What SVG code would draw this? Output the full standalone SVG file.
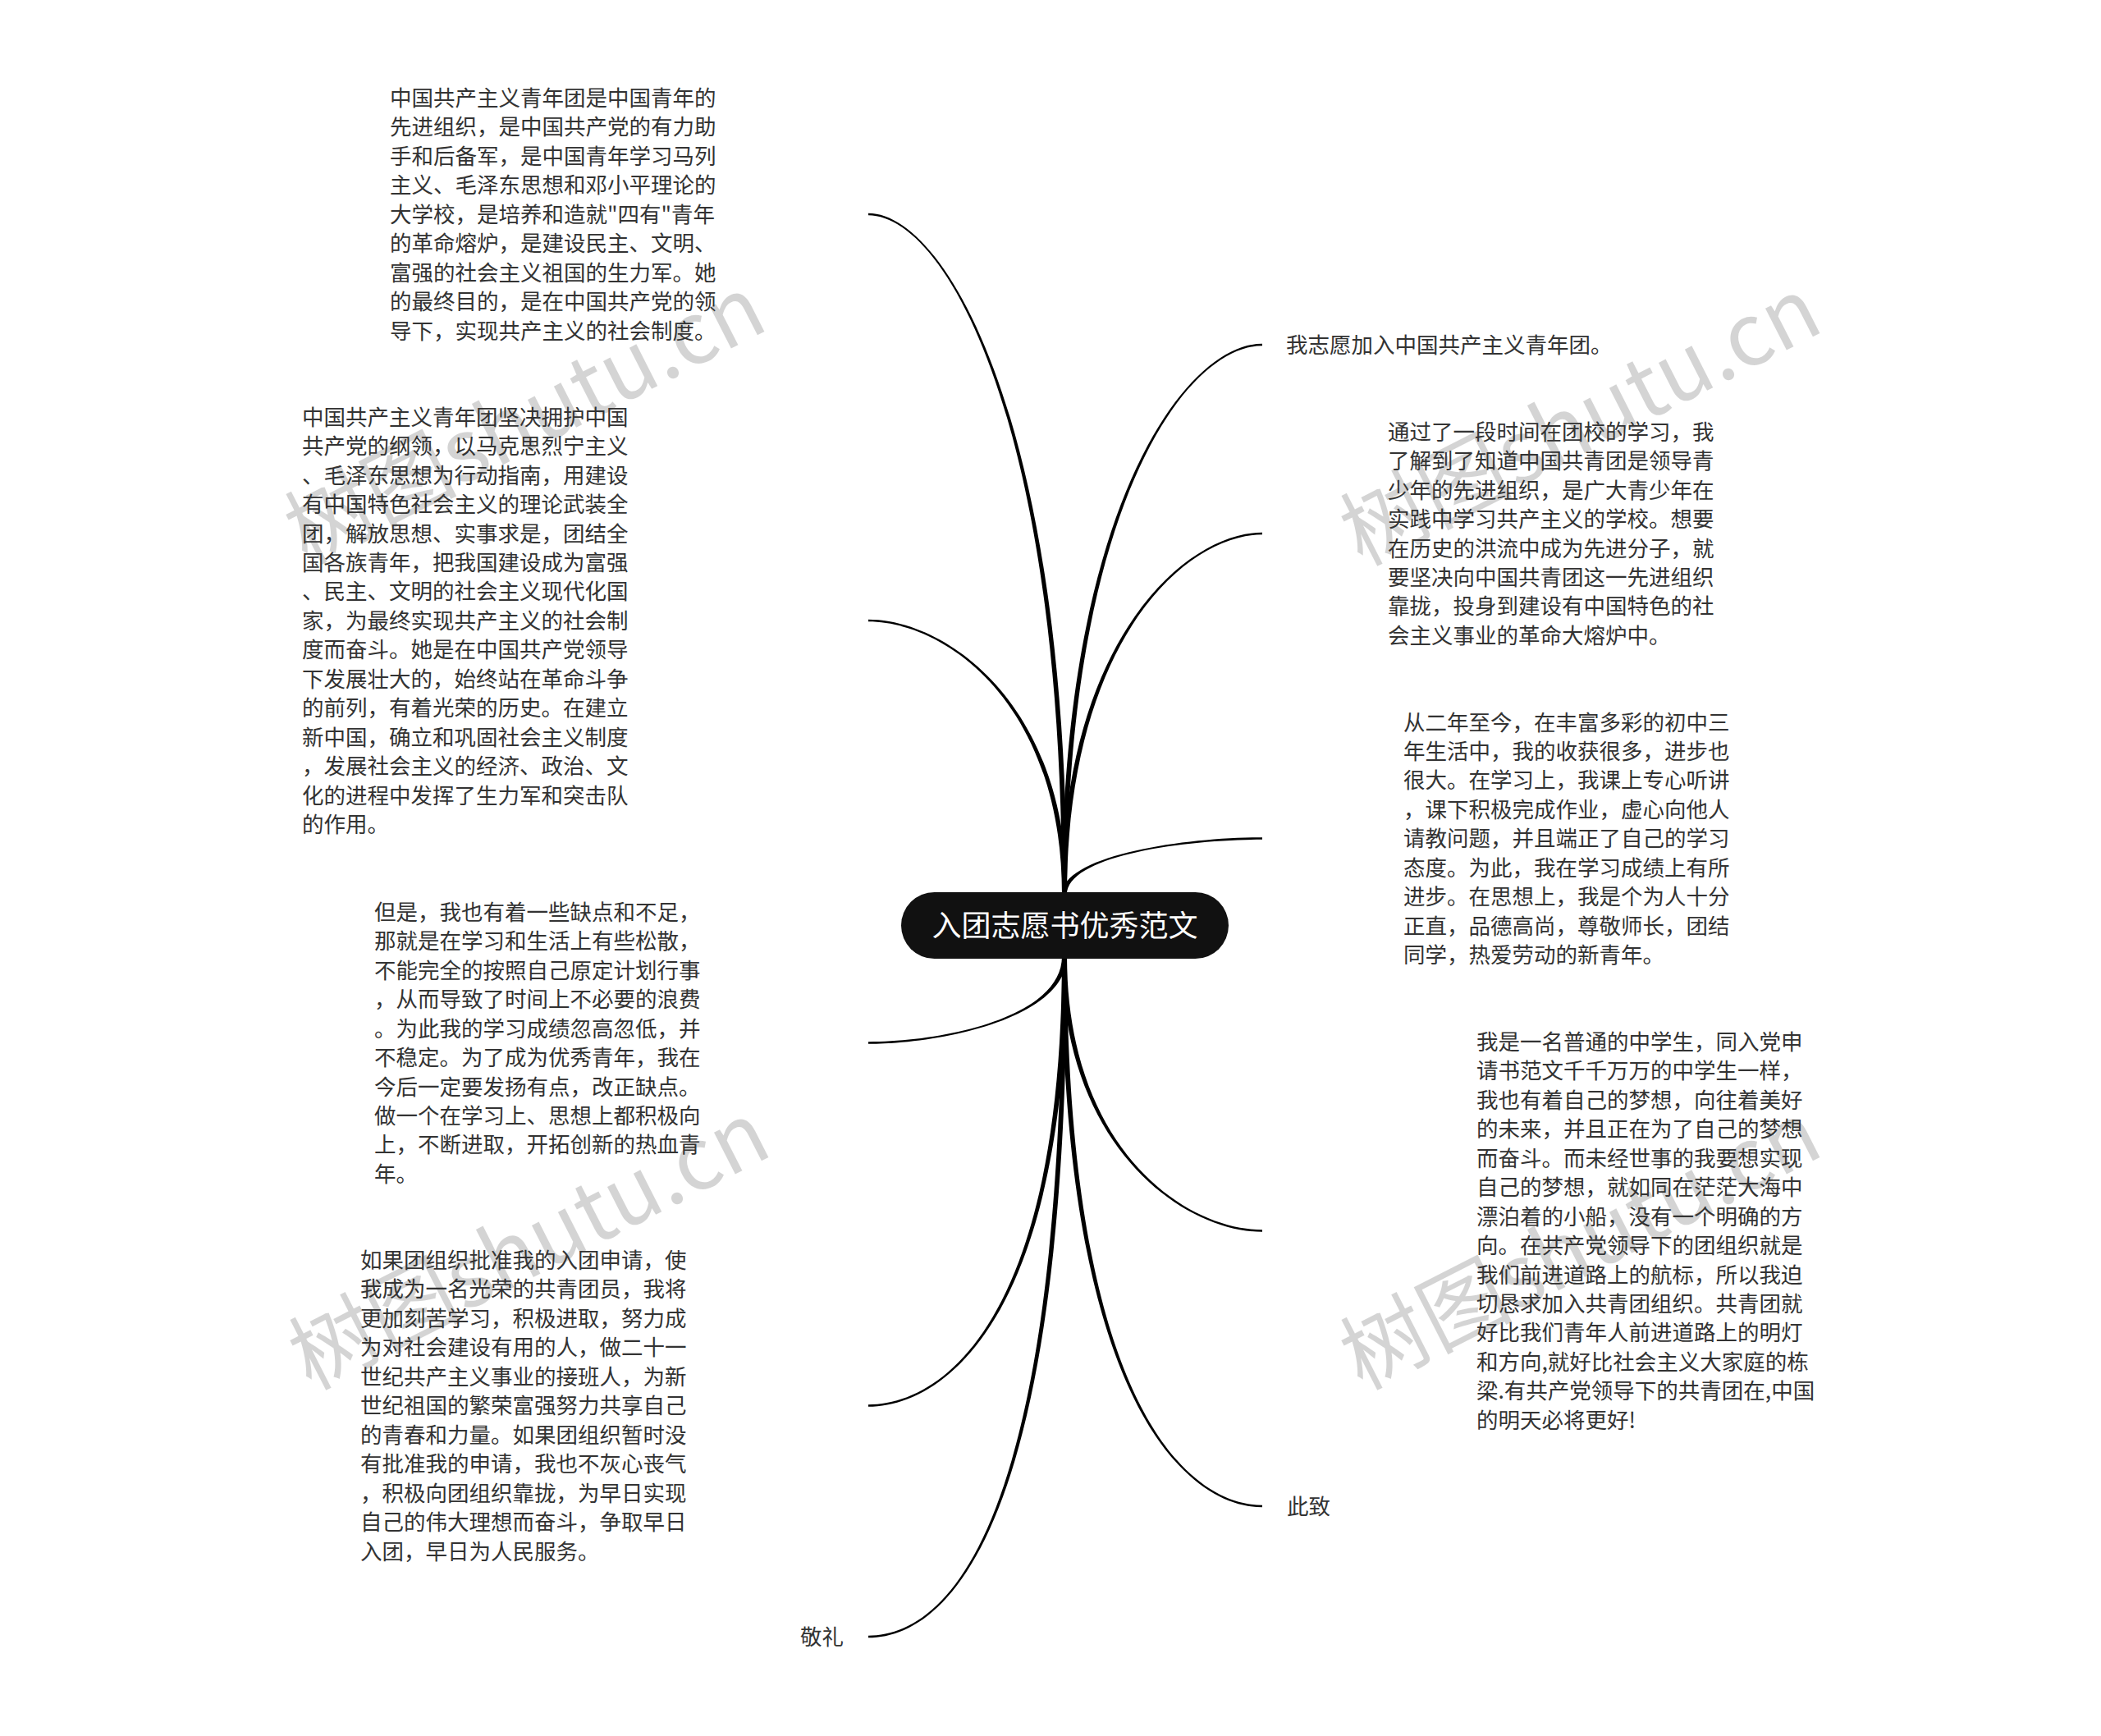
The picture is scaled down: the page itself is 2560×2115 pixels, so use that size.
<svg xmlns="http://www.w3.org/2000/svg" width="2560" height="2115" viewBox="0 0 2560 2115">
<style>
.t{font-family:"Noto Sans CJK SC","Liberation Sans",sans-serif;font-size:26.5px;fill:#333}
.c{font-family:"Noto Sans CJK SC","Liberation Sans",sans-serif;font-size:36px;fill:#fff;text-anchor:middle}
.wm{font-family:"Noto Sans CJK SC","Liberation Sans",sans-serif;font-size:105px;fill:#000;fill-opacity:0.17;text-anchor:middle}
.ln{fill:#000;stroke:none}
</style>
<rect width="2560" height="2115" fill="#fff"/>
<g id="watermarks">
<text class="wm" x="640" y="548" transform="rotate(-27 640 512)">树图shutu.cn</text>
<text class="wm" x="1926" y="550" transform="rotate(-27 1926 514)">树图shutu.cn</text>
<text class="wm" x="645" y="1554" transform="rotate(-27 645 1518)">树图shutu.cn</text>
<text class="wm" x="1926" y="1554" transform="rotate(-27 1926 1518)">树图shutu.cn</text>
</g>
<g id="connectors">
<path class="ln" d="M1294,1090 C1294,621 1444,418.7 1538,418.7 L1538,421.3 C1444,421.3 1300,621 1300,1090Z"/>
<path class="ln" d="M1294,1090 C1294,782 1444,648.7 1538,648.7 L1538,651.3 C1444,651.3 1300,782 1300,1090Z"/>
<path class="ln" d="M1294,1090 C1294,1042 1444,1020.2 1538,1020.2 L1538,1022.8 C1444,1022.8 1300,1042 1300,1090Z"/>
<path class="ln" d="M1300,1165 C1300,1399 1444,1498.2 1538,1498.2 L1538,1500.8 C1444,1500.8 1294,1399 1294,1165Z"/>
<path class="ln" d="M1300,1165 C1300,1701 1444,1833.7 1538,1833.7 L1538,1836.3 C1444,1836.3 1294,1701 1294,1165Z"/>
<path class="ln" d="M1294,1090 C1294,510 1151,262.3 1058,262.3 L1058,259.7 C1151,259.7 1300,510 1300,1090Z"/>
<path class="ln" d="M1294,1090 C1294,856 1151,757.3 1058,757.3 L1058,754.7 C1151,754.7 1300,856 1300,1090Z"/>
<path class="ln" d="M1300,1165 C1300,1238.8 1151,1271.8 1058,1271.8 L1058,1269.2 C1151,1269.2 1294,1238.8 1294,1165Z"/>
<path class="ln" d="M1300,1165 C1300,1603 1151,1713.8 1058,1713.8 L1058,1711.2 C1151,1711.2 1294,1603 1294,1165Z"/>
<path class="ln" d="M1300,1165 C1300,1870 1151,1995.3 1058,1995.3 L1058,1992.7 C1151,1992.7 1294,1870 1294,1165Z"/>
</g>
<g id="node-center">
<rect x="1098" y="1087" width="399" height="81" rx="40.5" fill="#111"/>
<text class="c" x="1297.5" y="1140.8">入团志愿书优秀范文</text>
</g>
<g id="node-l1">
<text class="t" x="475" y="129"><tspan x="475">中国共产主义青年团是中国青年的</tspan><tspan x="475" dy="35.45">先进组织，是中国共产党的有力助</tspan><tspan x="475" dy="35.45">手和后备军，是中国青年学习马列</tspan><tspan x="475" dy="35.45">主义、毛泽东思想和邓小平理论的</tspan><tspan x="475" dy="35.45">大学校，是培养和造就"四有"青年</tspan><tspan x="475" dy="35.45">的革命熔炉，是建设民主、文明、</tspan><tspan x="475" dy="35.45">富强的社会主义祖国的生力军。她</tspan><tspan x="475" dy="35.45">的最终目的，是在中国共产党的领</tspan><tspan x="475" dy="35.45">导下，实现共产主义的社会制度。</tspan></text>
</g>
<g id="node-l2">
<text class="t" x="368" y="517.7"><tspan x="368">中国共产主义青年团坚决拥护中国</tspan><tspan x="368" dy="35.45">共产党的纲领，以马克思烈宁主义</tspan><tspan x="368" dy="35.45">、毛泽东思想为行动指南，用建设</tspan><tspan x="368" dy="35.45">有中国特色社会主义的理论武装全</tspan><tspan x="368" dy="35.45">团，解放思想、实事求是，团结全</tspan><tspan x="368" dy="35.45">国各族青年，把我国建设成为富强</tspan><tspan x="368" dy="35.45">、民主、文明的社会主义现代化国</tspan><tspan x="368" dy="35.45">家，为最终实现共产主义的社会制</tspan><tspan x="368" dy="35.45">度而奋斗。她是在中国共产党领导</tspan><tspan x="368" dy="35.45">下发展壮大的，始终站在革命斗争</tspan><tspan x="368" dy="35.45">的前列，有着光荣的历史。在建立</tspan><tspan x="368" dy="35.45">新中国，确立和巩固社会主义制度</tspan><tspan x="368" dy="35.45">，发展社会主义的经济、政治、文</tspan><tspan x="368" dy="35.45">化的进程中发挥了生力军和突击队</tspan><tspan x="368" dy="35.45">的作用。</tspan></text>
</g>
<g id="node-l3">
<text class="t" x="456" y="1120.8"><tspan x="456">但是，我也有着一些缺点和不足，</tspan><tspan x="456" dy="35.45">那就是在学习和生活上有些松散，</tspan><tspan x="456" dy="35.45">不能完全的按照自己原定计划行事</tspan><tspan x="456" dy="35.45">，从而导致了时间上不必要的浪费</tspan><tspan x="456" dy="35.45">。为此我的学习成绩忽高忽低，并</tspan><tspan x="456" dy="35.45">不稳定。为了成为优秀青年，我在</tspan><tspan x="456" dy="35.45">今后一定要发扬有点，改正缺点。</tspan><tspan x="456" dy="35.45">做一个在学习上、思想上都积极向</tspan><tspan x="456" dy="35.45">上，不断进取，开拓创新的热血青</tspan><tspan x="456" dy="35.45">年。</tspan></text>
</g>
<g id="node-l4">
<text class="t" x="439" y="1545"><tspan x="439">如果团组织批准我的入团申请，使</tspan><tspan x="439" dy="35.45">我成为一名光荣的共青团员，我将</tspan><tspan x="439" dy="35.45">更加刻苦学习，积极进取，努力成</tspan><tspan x="439" dy="35.45">为对社会建设有用的人，做二十一</tspan><tspan x="439" dy="35.45">世纪共产主义事业的接班人，为新</tspan><tspan x="439" dy="35.45">世纪祖国的繁荣富强努力共享自己</tspan><tspan x="439" dy="35.45">的青春和力量。如果团组织暂时没</tspan><tspan x="439" dy="35.45">有批准我的申请，我也不灰心丧气</tspan><tspan x="439" dy="35.45">，积极向团组织靠拢，为早日实现</tspan><tspan x="439" dy="35.45">自己的伟大理想而奋斗，争取早日</tspan><tspan x="439" dy="35.45">入团，早日为人民服务。</tspan></text>
</g>
<g id="node-l5">
<text class="t" x="975" y="2003.8">敬礼</text>
</g>
<g id="node-r1">
<text class="t" x="1567" y="429.8">我志愿加入中国共产主义青年团。</text>
</g>
<g id="node-r2">
<text class="t" x="1691" y="535.7"><tspan x="1691">通过了一段时间在团校的学习，我</tspan><tspan x="1691" dy="35.45">了解到了知道中国共青团是领导青</tspan><tspan x="1691" dy="35.45">少年的先进组织，是广大青少年在</tspan><tspan x="1691" dy="35.45">实践中学习共产主义的学校。想要</tspan><tspan x="1691" dy="35.45">在历史的洪流中成为先进分子，就</tspan><tspan x="1691" dy="35.45">要坚决向中国共青团这一先进组织</tspan><tspan x="1691" dy="35.45">靠拢，投身到建设有中国特色的社</tspan><tspan x="1691" dy="35.45">会主义事业的革命大熔炉中。</tspan></text>
</g>
<g id="node-r3">
<text class="t" x="1710" y="889.5"><tspan x="1710">从二年至今，在丰富多彩的初中三</tspan><tspan x="1710" dy="35.45">年生活中，我的收获很多，进步也</tspan><tspan x="1710" dy="35.45">很大。在学习上，我课上专心听讲</tspan><tspan x="1710" dy="35.45">，课下积极完成作业，虚心向他人</tspan><tspan x="1710" dy="35.45">请教问题，并且端正了自己的学习</tspan><tspan x="1710" dy="35.45">态度。为此，我在学习成绩上有所</tspan><tspan x="1710" dy="35.45">进步。在思想上，我是个为人十分</tspan><tspan x="1710" dy="35.45">正直，品德高尚，尊敬师长，团结</tspan><tspan x="1710" dy="35.45">同学，热爱劳动的新青年。</tspan></text>
</g>
<g id="node-r4">
<text class="t" x="1799" y="1278.9"><tspan x="1799">我是一名普通的中学生，同入党申</tspan><tspan x="1799" dy="35.45">请书范文千千万万的中学生一样，</tspan><tspan x="1799" dy="35.45">我也有着自己的梦想，向往着美好</tspan><tspan x="1799" dy="35.45">的未来，并且正在为了自己的梦想</tspan><tspan x="1799" dy="35.45">而奋斗。而未经世事的我要想实现</tspan><tspan x="1799" dy="35.45">自己的梦想，就如同在茫茫大海中</tspan><tspan x="1799" dy="35.45">漂泊着的小船，没有一个明确的方</tspan><tspan x="1799" dy="35.45">向。在共产党领导下的团组织就是</tspan><tspan x="1799" dy="35.45">我们前进道路上的航标，所以我迫</tspan><tspan x="1799" dy="35.45">切恳求加入共青团组织。共青团就</tspan><tspan x="1799" dy="35.45">好比我们青年人前进道路上的明灯</tspan><tspan x="1799" dy="35.45">和方向,就好比社会主义大家庭的栋</tspan><tspan x="1799" dy="35.45">梁.有共产党领导下的共青团在,中国</tspan><tspan x="1799" dy="35.45">的明天必将更好!</tspan></text>
</g>
<g id="node-r5">
<text class="t" x="1568" y="1844.8">此致</text>
</g>
</svg>
